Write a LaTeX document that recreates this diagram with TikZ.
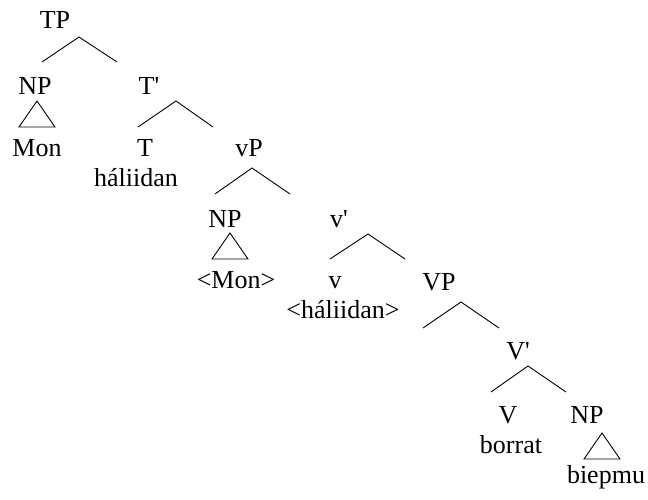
\documentclass[tikz,border=0pt]{standalone}
\usepackage{fontspec}
\setmainfont{Liberation Serif}
\begin{document}
\begin{tikzpicture}[x=1pt,y=-1pt,
  lab/.style={anchor=base,inner sep=0pt,font=\fontsize{26}{31}\selectfont},
  br/.style={line width=0.9pt},
  tri/.style={line width=0.9pt,line join=miter}]
\useasboundingbox (0,0) rectangle (648,500);
% labels
\node[lab] (TP) at (55,29) {TP};
\node[lab] (NP1) at (35,95) {NP};
\node[lab] (Tbar) at (149,95) {T\textquotesingle};
\node[lab] (Mon) at (37,157) {Mon};
\node[lab] (T) at (145,157) {T};
\node[lab] (hal) at (136,186) {háliidan};
\node[lab] (vP) at (249,157) {vP};
\node[lab] (NP2) at (225,227) {NP};
\node[lab] (vbar) at (339,227) {v\textquotesingle};
\node[lab] (Mon2) at (236,288) {<Mon>};
\node[lab] (v) at (335,288) {v};
\node[lab] (hal2) at (343,318) {<háliidan>};
\node[lab] (VP) at (439,290) {VP};
\node[lab] (Vbar) at (518,359) {V\textquotesingle};
\node[lab] (V) at (508,423) {V};
\node[lab] (bor) at (511,453) {borrat};
\node[lab] (NP3) at (587,423) {NP};
\node[lab] (bie) at (606,483) {biepmu};
% branch coordinates
\coordinate (a1) at (79,37);  \coordinate (l1) at (42,62);   \coordinate (r1) at (117,62);
\coordinate (a2) at (176,101);\coordinate (l2) at (138,127); \coordinate (r2) at (213,127);
\coordinate (a3) at (252,168);\coordinate (l3) at (215,194); \coordinate (r3) at (290,194);
\coordinate (a4) at (368,234);\coordinate (l4) at (330,259); \coordinate (r4) at (405,259);
\coordinate (a5) at (461,302);\coordinate (l5) at (423,328); \coordinate (r5) at (499,328);
\coordinate (a6) at (528,366);\coordinate (l6) at (491,392); \coordinate (r6) at (566,392);
\draw[br] (l1) -- (a1) -- (r1);
\draw[br] (l2) -- (a2) -- (r2);
\draw[br] (l3) -- (a3) -- (r3);
\draw[br] (l4) -- (a4) -- (r4);
\draw[br] (l5) -- (a5) -- (r5);
\draw[br] (l6) -- (a6) -- (r6);
% triangles
\coordinate (t1a) at (37,101); \coordinate (t1l) at (19,127); \coordinate (t1r) at (55,127);
\coordinate (t2a) at (230,233); \coordinate (t2l) at (212,259); \coordinate (t2r) at (248,259);
\coordinate (t3a) at (602,433); \coordinate (t3l) at (584,459); \coordinate (t3r) at (620,459);
\draw[tri] (t1a) -- (t1l) -- (t1r) -- cycle;
\draw[tri] (t2a) -- (t2l) -- (t2r) -- cycle;
\draw[tri] (t3a) -- (t3l) -- (t3r) -- cycle;
\end{tikzpicture}
\end{document}
